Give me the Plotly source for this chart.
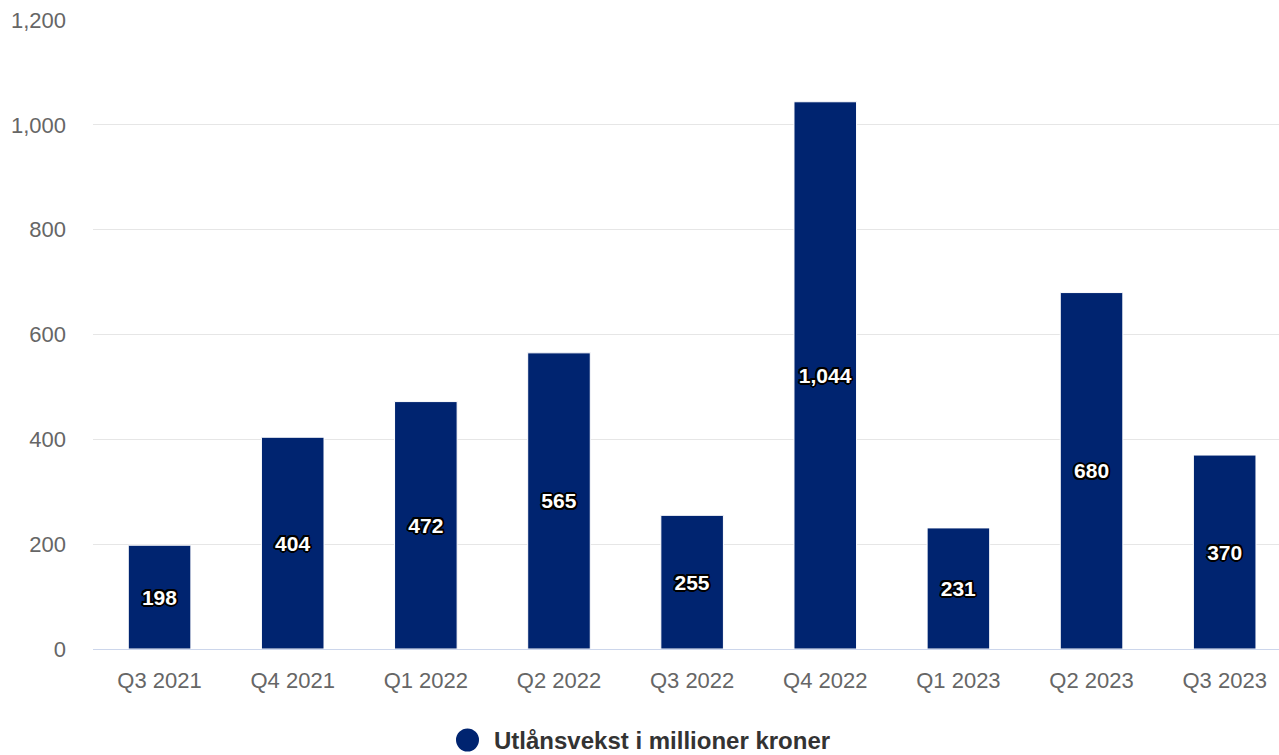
import plotly.graph_objects as go

categories = ["Q3 2021", "Q4 2021", "Q1 2022", "Q2 2022", "Q3 2022",
              "Q4 2022", "Q1 2023", "Q2 2023", "Q3 2023"]
values = [198, 404, 472, 565, 255, 1044, 231, 680, 370]
series_name = "Utlånsvekst i millioner kroner"
y_ticks = [0, 200, 400, 600, 800, 1000, 1200]

W, H = 1279, 755
ML, MR, MT, MB = 93, 0, 20, 106
PW, PH = W - ML - MR, H - MT - MB
BAR = "#002470"
FONT = "Liberation Sans, Arial, sans-serif"

def px_x(p):
    return (p - ML) / PW

def px_y(p):
    return (H - MB - p) / PH

outline = ("1.5px 1.5px 0 #000, -1.5px -1.5px 0 #000, 1.5px -1.5px 0 #000, -1.5px 1.5px 0 #000, "
           "0 2px 0 #000, 0 -2px 0 #000, 2px 0 0 #000, -2px 0 0 #000")

fig = go.Figure(go.Bar(
    x=categories, y=values, name=series_name,
    marker=dict(color=BAR, line=dict(color="#ffffff", width=1)),
    texttemplate="%{y:,}", textposition="inside", insidetextanchor="middle",
    textangle=0, constraintext="none",
    insidetextfont=dict(family=FONT, size=21, color="#ffffff", weight="bold", shadow=outline),
    showlegend=False, hoverinfo="x+y",
))

# legend (circle + label)
cx, cy = px_x(467.5), px_y(740)
fig.add_shape(type="circle", xref="paper", yref="paper", xsizemode="pixel", ysizemode="pixel",
              xanchor=cx, yanchor=cy, x0=-11.5, x1=11.5, y0=-11.5, y1=11.5,
              fillcolor=BAR, line=dict(width=0))
fig.add_annotation(xref="paper", yref="paper", x=px_x(492), y=cy, xanchor="left", yanchor="middle",
                   text="<b>" + series_name + "</b>", showarrow=False,
                   font=dict(family=FONT, size=24, color="#333333"))

fig.update_layout(
    width=W, height=H,
    margin=dict(l=ML, r=MR, t=MT, b=MB, pad=0),
    plot_bgcolor="#ffffff", paper_bgcolor="#ffffff",
    bargap=0.53,
    uniformtext=dict(minsize=21, mode="show"),
    font=dict(family=FONT),
    xaxis=dict(range=[-0.5, 8.408], showgrid=False, showline=True, linecolor="#ccd6eb", linewidth=1,
               ticks="", tickfont=dict(size=22, color="#666666"), ticklabelstandoff=12,
               fixedrange=True),
    yaxis=dict(range=[0, 1200], tickvals=y_ticks, tickformat=",", showgrid=True,
               gridcolor="#e6e6e6", gridwidth=1, zeroline=False, showline=False,
               ticks="", tickfont=dict(size=22, color="#666666"), ticklabelstandoff=26,
               fixedrange=True),
)

fig.write_html("out.html")
